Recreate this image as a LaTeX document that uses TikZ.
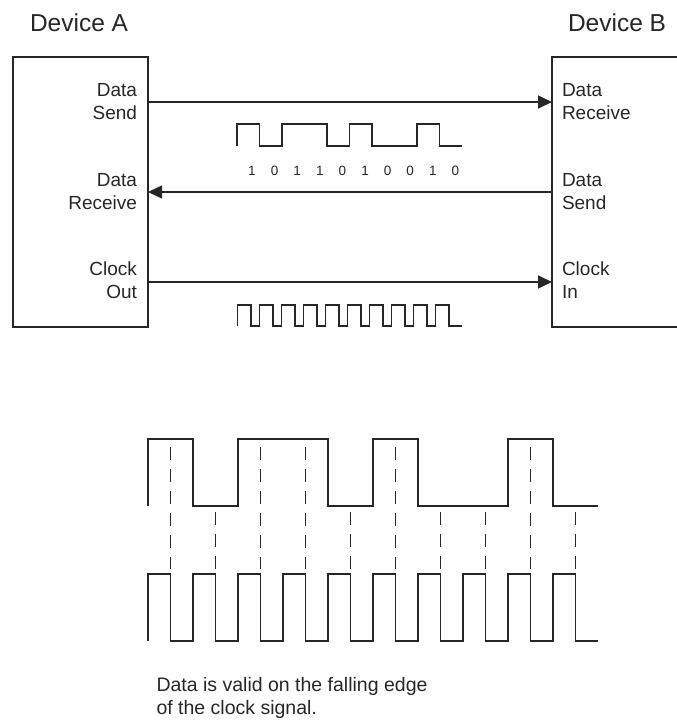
\documentclass[tikz,border=0pt]{standalone}
\usepackage{fontspec}
\setmainfont{Liberation Sans}
\usetikzlibrary{arrows.meta}
\definecolor{ink}{HTML}{262626}
\tikzset{
  wire/.style={draw=ink, line width=1.5pt},
  arr/.style={-{Triangle[length=14pt,width=13pt]}},
  lbl/.style={inner sep=0pt, outer sep=0pt, text=ink, font=\fontsize{19}{23}\selectfont},
  title/.style={inner sep=0pt, outer sep=0pt, text=ink, font=\fontsize{24.5}{28}\selectfont, anchor=north west},
  digit/.style={inner sep=0pt, text=ink, font=\fontsize{13.5}{16}\selectfont},
  dashline/.style={draw=ink, line width=1.5pt, dash pattern=on 12.5pt off 9.5pt},
  devbox/.style={inner sep=0pt, outer sep=0pt, anchor=north west}
}
\begin{document}
\begin{tikzpicture}[x=1pt,y=-1pt]
\useasboundingbox (0,0) rectangle (677,720);

% titles
\node[title] (tA) at (30,14) {Device A};
\node[title] (tB) at (568,14) {Device B};

% device boxes
\node[devbox, draw=ink, line width=1.5pt, minimum width=135pt, minimum height=270pt] (A) at (13,57) {};
\node[devbox, minimum width=125pt, minimum height=270pt] (B) at (552,57) {};
\draw[wire] (B.north east) -- (B.north west) -- (B.south west) -- (B.south east);

% labels
\node[lbl, anchor=north east, align=right] (aSend) at (137,83) {Data\\Send};
\node[lbl, anchor=north east, align=right] (aRecv) at (137,173) {Data\\Receive};
\node[lbl, anchor=north east, align=right] (aClk) at (137,262) {Clock\\Out};
\node[lbl, anchor=north west, align=left] (bRecv) at (562,83) {Data\\Receive};
\node[lbl, anchor=north west, align=left] (bSend) at (562,173) {Data\\Send};
\node[lbl, anchor=north west, align=left] (bClk) at (562,262) {Clock\\In};

% connectors
\draw[wire, arr] (A.east |- 0,102) -- (B.west |- 0,102);
\draw[wire, arr] (B.west |- 0,192) -- (A.east |- 0,192);
\draw[wire, arr] (A.east |- 0,282) -- (B.west |- 0,282);

% small data waveform
\draw[wire] (237,146) -- (237,124) -- (259.5,124) -- (259.5,146) -- (282,146) -- (282,124)
  -- (327,124) -- (327,146) -- (349.5,146) -- (349.5,124) -- (372,124) -- (372,146)
  -- (417,146) -- (417,124) -- (439.5,124) -- (439.5,146) -- (462,146);
\foreach \b [count=\i from 0] in {1,0,1,1,0,1,0,0,1,0}
  \node[digit] (d\i) at ({252+22.6*\i},171) {\b};

% small clock waveform
\draw[wire] (237.3,326) -- (237.3,305)
  \foreach \k in {0,...,8}{ -- ({250.8+22*\k},305) -- ({250.8+22*\k},326) -- ({259.3+22*\k},326) -- ({259.3+22*\k},305) }
  -- (448.8,305) -- (448.8,326) -- (462,326);

% big data waveform
\draw[wire] (148,506) -- (148,439) -- (193,439) -- (193,506) -- (238,506) -- (238,439)
  -- (328,439) -- (328,506) -- (373,506) -- (373,439) -- (418,439) -- (418,506)
  -- (508,506) -- (508,439) -- (553,439) -- (553,506) -- (598,506);

% big clock waveform
\draw[wire] (148,641) -- (148,574)
  \foreach \k in {0,...,8}{ -- ({170.5+45*\k},574) -- ({170.5+45*\k},641) -- ({193+45*\k},641) -- ({193+45*\k},574) }
  -- (575.5,574) -- (575.5,641) -- (598,641);

% dashed sampling lines
\foreach \k/\t in {0/447,1/512,2/447,3/447,4/512,5/447,6/512,7/512,8/447,9/512}
  \draw[dashline] ({170.5+45*\k},\t) -- ({170.5+45*\k},569);

% note
\node[lbl, font=\fontsize{19.5}{23}\selectfont, anchor=north west, align=left] (note) at (156.5,677)
  {Data is valid on the falling edge\\of the clock signal.};
\end{tikzpicture}
\end{document}
